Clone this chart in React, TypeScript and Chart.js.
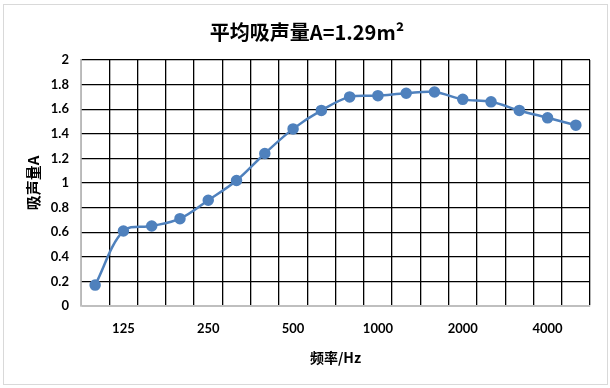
import React, { useEffect, useRef } from "react";
import { Chart, registerables } from "chart.js";

Chart.register(...registerables);

const categories = ["100", "125", "160", "200", "250", "315", "400", "500", "630", "800", "1000", "1250", "1600", "2000", "2500", "3150", "4000", "5000"];
const shownLabels = ["125", "250", "500", "1000", "2000", "4000"];
const absorption = [0.17, 0.61, 0.65, 0.71, 0.86, 1.02, 1.24, 1.44, 1.59, 1.70, 1.71, 1.73, 1.74, 1.68, 1.66, 1.59, 1.53, 1.47];
const titleText = "平均吸声量A=1.29m²";
const yTitle = "吸声量A";
const xTitle = "频率/Hz";

const borderPlugin = {
  id: "outerBorder",
  beforeDraw(chart: any) {
    const ctx = chart.ctx;
    ctx.save();
    ctx.fillStyle = "#ffffff";
    ctx.fillRect(0, 0, chart.width, chart.height);
    ctx.strokeStyle = "#d9d9d9";
    ctx.lineWidth = 1;
    ctx.strokeRect(3.5, 4.5, 604, 380);
    ctx.restore();
  },
};

export default function App() {
  const ref = useRef<HTMLCanvasElement>(null);
  useEffect(() => {
    document.body.style.margin = "0";
    const chart = new Chart(ref.current!, {
      type: "line",
      data: {
        labels: categories,
        datasets: [
          {
            data: absorption,
            borderColor: "#4F81BD",
            backgroundColor: "#4F81BD",
            borderWidth: 2.5,
            pointRadius: 4.5,
            pointBackgroundColor: "#4F81BD",
            pointBorderColor: "#4F81BD",
            tension: 0.35,
            fill: false,
          },
        ],
      },
      options: {
        responsive: false,
        animation: false,
        layout: { padding: { left: 24, right: 20, top: 0, bottom: 22 } },
        plugins: {
          legend: { display: false },
          tooltip: { enabled: false },
          title: {
            display: true,
            text: titleText,
            color: "#000000",
            font: { family: "'Noto Sans CJK SC', 'Noto Sans', sans-serif", size: 20, weight: "bold" },
            padding: { top: 20, bottom: 16 },
          },
        },
        scales: {
          x: {
            offset: true,
            grid: { offset: true, color: "#000000", lineWidth: 1.3, drawTicks: false },
            border: { color: "#bfbfbf", width: 1.5 },
            ticks: {
              autoSkip: false,
              maxRotation: 0,
              padding: 15,
              color: "#000000",
              font: { family: "Lato, 'Open Sans', sans-serif", size: 13, weight: "bold" },
              callback: (_v: any, i: number) => (shownLabels.includes(categories[i]) ? categories[i] : ""),
            },
            title: {
              display: true,
              text: xTitle,
              color: "#000000",
              font: { family: "'Noto Sans CJK SC', sans-serif", size: 14, weight: "bold" },
              padding: { top: 0, bottom: 0 },
            },
            afterFit: (s: any) => {
              s.height = 60;
            },
          },
          y: {
            min: 0,
            max: 2,
            ticks: {
              stepSize: 0.2,
              padding: 12,
              color: "#000000",
              font: { family: "Lato, 'Open Sans', sans-serif", size: 13, weight: "bold" },
              callback: (v: any) => String(Math.round(Number(v) * 10) / 10),
            },
            grid: { color: "#000000", lineWidth: 1.3, drawTicks: false },
            border: { color: "#bfbfbf", width: 1.5 },
            title: {
              display: true,
              text: yTitle,
              color: "#000000",
              font: { family: "'Noto Sans CJK SC', sans-serif", size: 15, weight: "bold" },
              padding: { top: 0, bottom: 0 },
            },
            afterFit: (s: any) => {
              s.width = 57;
            },
          },
        },
      },
      plugins: [borderPlugin],
    });
    return () => chart.destroy();
  }, []);
  return (
    <div style={{ width: 610, height: 388 }}>
      <canvas ref={ref} width={610} height={388} />
    </div>
  );
}
